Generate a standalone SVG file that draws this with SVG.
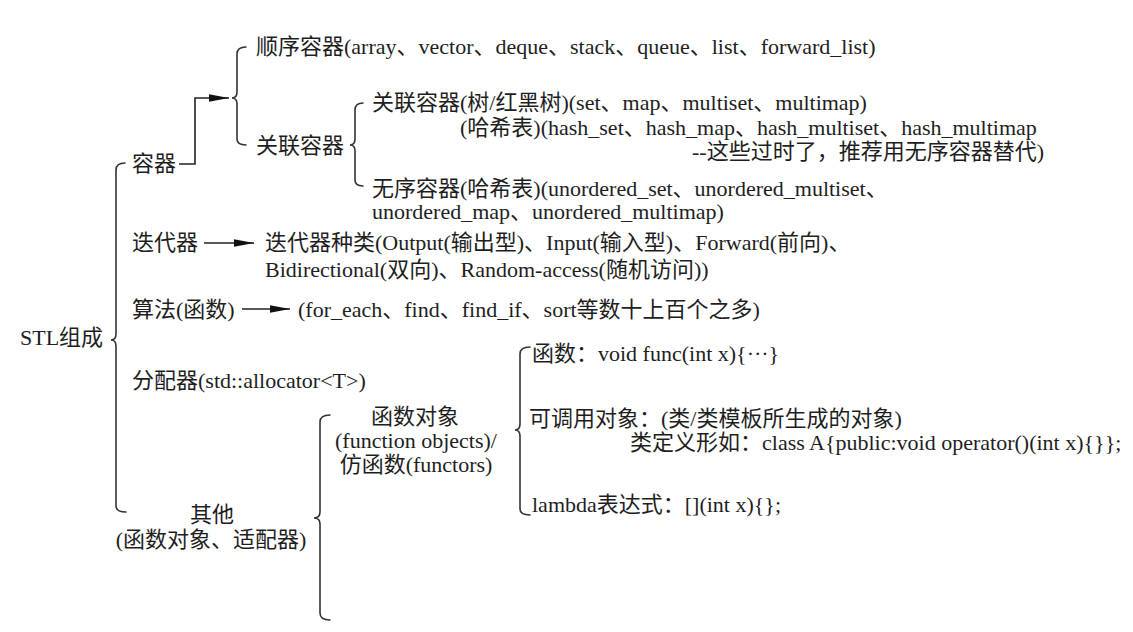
<svg xmlns="http://www.w3.org/2000/svg" width="1133" height="632" viewBox="0 0 1133 632">
  <style>
    text { font-family: "Liberation Serif", "Noto Sans CJK SC", serif; font-size: 22px; fill: #1e1e1e; }
    .mid { text-anchor: middle; }
    .brace { fill: none; stroke: #333; stroke-width: 1.6; stroke-linecap: round; }
    .conn { fill: none; stroke: #222; stroke-width: 1.6; }
  </style>
  <defs>
    <marker id="arrow" markerUnits="userSpaceOnUse" markerWidth="22" markerHeight="10" refX="20" refY="5" orient="auto">
      <path d="M0,1.2 L20,5 L0,8.8 Z" fill="#111"/>
    </marker>
  </defs>
  <rect width="1133" height="632" fill="#ffffff"/>

  <g id="connectors">
    <path class="conn" d="M179,164 H195 V98 H229" marker-end="url(#arrow)"/>
    <path class="conn" d="M204,243 H254" marker-end="url(#arrow)"/>
    <path class="conn" d="M242,309 H290" marker-end="url(#arrow)"/>
    <g id="braces">
      <path class="brace" d="M125,163 Q116,163 116,170 L116,334 Q116,340 111,340 Q116,340 116,346 L116,506 Q116,512 126,512"/>
      <path class="brace" d="M246,47 Q237,47 237,54 L237,92 Q237,98 232,98 Q237,98 237,104 L237,139 Q237,145 246,145"/>
      <path class="brace" d="M363,103 Q355,103 355,110 L355,139 Q355,145 350,145 Q355,145 355,151 L355,180 Q355,186 363,186"/>
      <path class="brace" d="M330,415 Q320,415 320,422 L320,512 Q320,518 314,518 Q320,518 320,524 L320,613 Q320,620 330,620"/>
      <path class="brace" d="M530,347 Q520,347 520,354 L520,424 Q520,430 515,430 Q520,430 520,436 L520,509 Q520,515 530,515"/>
    </g>
  </g>

  <g id="stl"><text x="20" y="345">STL组成</text></g>

  <g id="container"><text x="132" y="171">容器</text></g>
  <g id="sequence"><text x="256" y="54">顺序容器(array、vector、deque、stack、queue、list、forward_list)</text></g>
  <g id="assoc"><text x="256" y="153">关联容器</text></g>
  <g id="assoc-tree"><text x="372" y="110">关联容器(树/红黑树)(set、map、multiset、multimap)</text></g>
  <g id="assoc-hash">
    <text x="460" y="135">(哈希表)(hash_set、hash_map、hash_multiset、hash_multimap</text>
    <text x="692" y="159">--这些过时了，推荐用无序容器替代)</text>
  </g>
  <g id="unordered">
    <text x="372" y="196">无序容器(哈希表)(unordered_set、unordered_multiset、</text>
    <text x="372" y="219">unordered_map、unordered_multimap)</text>
  </g>

  <g id="iterator"><text x="132" y="250">迭代器</text></g>
  <g id="iterator-kinds">
    <text x="265" y="250">迭代器种类(Output(输出型)、Input(输入型)、Forward(前向)、</text>
    <text x="265" y="277">Bidirectional(双向)、Random-access(随机访问))</text>
  </g>

  <g id="algorithm"><text x="132" y="317">算法(函数)</text></g>
  <g id="algorithm-list"><text x="298" y="317">(for_each、find、find_if、sort等数十上百个之多)</text></g>

  <g id="allocator"><text x="132" y="388">分配器(std::allocator&lt;T&gt;)</text></g>

  <g id="other">
    <text class="mid" x="212" y="522">其他</text>
    <text class="mid" x="211" y="547">(函数对象、适配器)</text>
  </g>

  <g id="function-objects">
    <text class="mid" x="415" y="424">函数对象</text>
    <text class="mid" x="416" y="448">(function objects)/</text>
    <text class="mid" x="416" y="472">仿函数(functors)</text>
  </g>

  <g id="func"><text x="532" y="361">函数：void func(int x){···}</text></g>
  <g id="callable">
    <text x="529" y="426">可调用对象：(类/类模板所生成的对象)</text>
    <text x="630" y="450">类定义形如：class A{public:void operator()(int x){}};</text>
  </g>
  <g id="lambda"><text x="532" y="512">lambda表达式：[](int x){};</text></g>
</svg>
